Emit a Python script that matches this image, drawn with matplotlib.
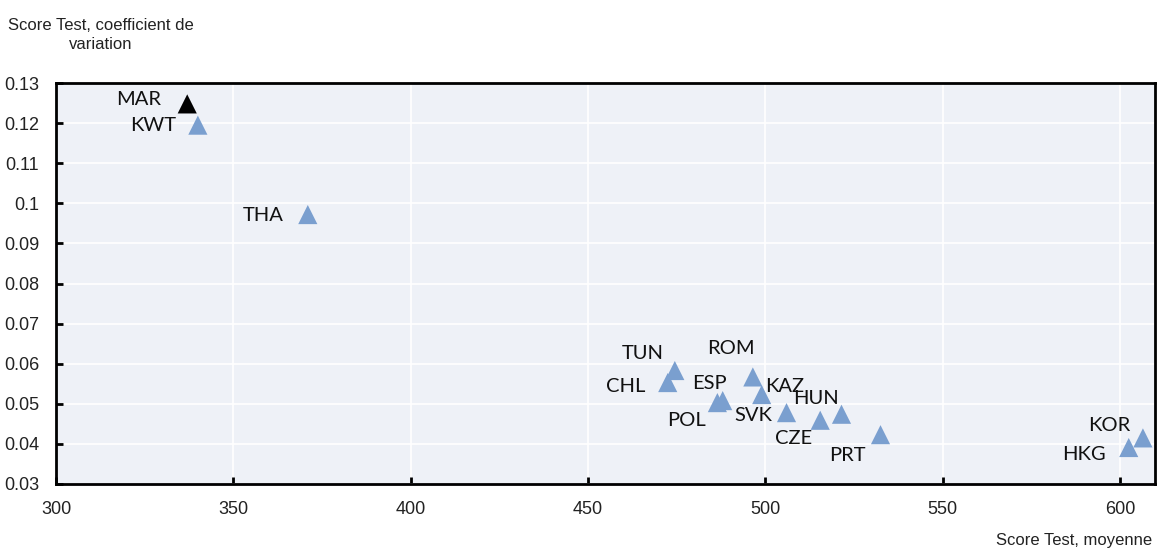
import matplotlib
matplotlib.use("Agg")
import matplotlib.pyplot as plt

# data
countries = ["MAR", "KWT", "THA", "TUN", "CHL", "ESP", "POL", "ROM", "KAZ",
             "SVK", "HUN", "CZE", "PRT", "KOR", "HKG"]
score_mean = [337, 340, 371, 474.5, 472.5, 488, 486.5, 496.5, 499,
              506, 521.5, 515.5, 532.5, 606.5, 602.5]
score_cv = [0.1248, 0.1195, 0.0972, 0.0583, 0.0553, 0.0508, 0.0503, 0.0567, 0.0523,
            0.0478, 0.0474, 0.0459, 0.0423, 0.0415, 0.0391]
highlight = ["MAR"]

# label offsets in pixels (dx, dy) relative to each marker
label_dx = [-49, -45, -45, -32, -42, -13, -31, -22, 23, -33, -25, -27, -33, -34, -45]
label_dy = [4, 0, -1, 17, -4, 17, -18, 28, 8, -3, 16, -18, -21, 12, -7]

LABEL_FONT = ["Lato", "DejaVu Sans"]
TICK_FONT = ["Liberation Sans Narrow", "Liberation Sans", "DejaVu Sans"]


def main():
    fig = plt.figure(figsize=(11.67, 5.5), dpi=100)
    ax = fig.add_axes([0.048, 0.12, 0.942, 0.729])
    ax.set_facecolor("#eef1f7")

    colors = ["#000000" if c in highlight else "#7a9fcf" for c in countries]
    ax.scatter(score_mean, score_cv, marker="^", s=190, c=colors,
               linewidths=0, zorder=3)

    for c, x, y, dx, dy in zip(countries, score_mean, score_cv, label_dx, label_dy):
        ax.annotate(c, xy=(x, y), xytext=(dx, dy), textcoords="offset pixels",
                    ha="center", va="center", fontsize=14.5,
                    family=LABEL_FONT, color="#111111", zorder=4)

    ax.set_xlim(300, 610)
    ax.set_ylim(0.03, 0.13)
    ax.set_xticks([300, 350, 400, 450, 500, 550, 600])
    ax.set_yticks([0.03, 0.04, 0.05, 0.06, 0.07, 0.08, 0.09, 0.1, 0.11, 0.12, 0.13])
    ax.set_yticklabels(["0.03", "0.04", "0.05", "0.06", "0.07", "0.08", "0.09",
                        "0.1", "0.11", "0.12", "0.13"])

    ax.grid(True, color="white", linewidth=1.2, zorder=0)
    ax.set_axisbelow(True)
    for sp in ax.spines.values():
        sp.set_color("black")
        sp.set_linewidth(2)

    ax.tick_params(axis="both", direction="in", length=5, width=2,
                   labelsize=13, colors="black", labelcolor="#222222")
    ax.tick_params(axis="x", pad=12)
    ax.tick_params(axis="y", pad=12)
    for lab in ax.get_xticklabels() + ax.get_yticklabels():
        lab.set_family(TICK_FONT)

    fig.text(101 / 1167, 1 - 35 / 550, "Score Test, coefficient de\nvariation",
             ha="center", va="center", fontsize=12, family=TICK_FONT,
             color="#222222", linespacing=1.35)
    fig.text(1152 / 1167, 1 - 540 / 550, "Score Test, moyenne",
             ha="right", va="center", fontsize=12, family=TICK_FONT,
             color="#222222")

    fig.savefig("out.png", dpi=100)
    plt.close(fig)


if __name__ == "__main__":
    main()
